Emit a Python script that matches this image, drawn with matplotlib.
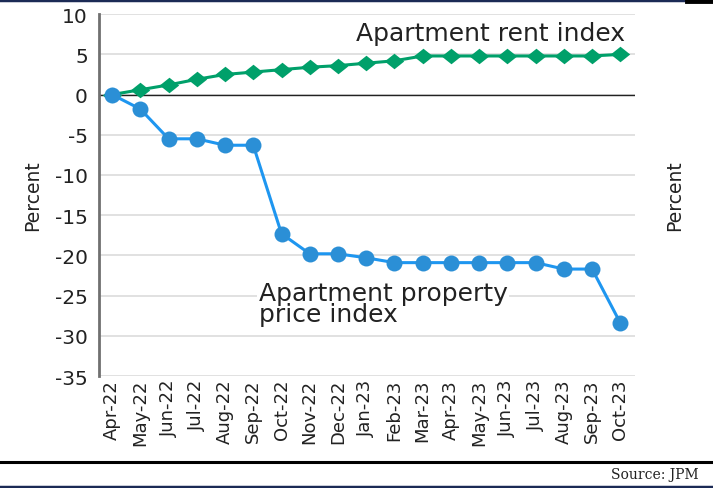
import matplotlib
matplotlib.use("Agg")
import matplotlib.pyplot as plt
from matplotlib.lines import Line2D

plt.rcParams['font.family'] = ['DejaVu Sans']
plt.rcParams['axes.unicode_minus'] = False

# Monthly data, Apr-22 .. Oct-23 (percent change since Apr-22)
months = ['Apr-22', 'May-22', 'Jun-22', 'Jul-22', 'Aug-22', 'Sep-22', 'Oct-22',
          'Nov-22', 'Dec-22', 'Jan-23', 'Feb-23', 'Mar-23', 'Apr-23', 'May-23',
          'Jun-23', 'Jul-23', 'Aug-23', 'Sep-23', 'Oct-23']
rent_index = [0, 0.6, 1.2, 1.9, 2.5, 2.8, 3.1, 3.4, 3.6, 3.9, 4.2, 4.8,
              4.8, 4.8, 4.8, 4.8, 4.8, 4.8, 5.0]
price_index = [0, -1.8, -5.5, -5.5, -6.3, -6.3, -17.3, -19.8, -19.8, -20.3,
               -20.9, -20.9, -20.9, -20.9, -20.9, -20.9, -21.7, -21.7, -28.4]
yticks = [10, 5, 0, -5, -10, -15, -20, -25, -30, -35]

green = '#00a06a'
blue = '#2b8fd6'
x = list(range(len(months)))

fig = plt.figure(figsize=(7.13, 4.89), dpi=100)
ax = fig.add_axes([0.139, 0.229, 0.752, 0.740])

# gridlines and zero line
ax.set_yticks(yticks)
ax.yaxis.grid(True, color='#dcdcdc', linewidth=1.2)
ax.set_axisbelow(True)
ax.axhline(0, color='#222222', linewidth=1.0, zorder=1)

# slightly wide markers, as in the original
diamond = [(-1, 0), (0, 0.8), (1, 0), (0, -0.8), (-1, 0)]
ellipse_w = 1.0
ax.plot(x, rent_index, color=green, linewidth=2.2, marker=diamond,
        markersize=14, markeredgewidth=0, zorder=3)
ax.plot(x, price_index, color='#1e96f0', linewidth=2.2, marker='o',
        markersize=11.5, markerfacecolor=blue, markeredgewidth=0, zorder=4)

ax.set_xlim(-0.46, 18.53)
ax.set_ylim(-35, 10)
ax.set_xticks(x)
ax.set_xticklabels(months, rotation=90, fontsize=13, color='#222222')
ax.tick_params(axis='x', length=0, pad=2)
ax.tick_params(axis='y', length=0, pad=8, labelsize=14.5, labelcolor='#222222')

for s in ['top', 'right', 'bottom']:
    ax.spines[s].set_visible(False)
ax.spines['left'].set_color('#707070')
ax.spines['left'].set_linewidth(2.0)

ax.set_ylabel('Percent', fontsize=13.5, color='#222222')
ax.yaxis.set_label_coords(-0.106, 0.5)

ax2 = ax.twinx()
ax2.set_ylim(-35, 10)
ax2.set_yticks([])
for s in ax2.spines.values():
    s.set_visible(False)
ax2.set_ylabel('Percent', fontsize=13.5, color='#222222')
ax2.yaxis.set_label_coords(1.056, 0.5)

# series labels
ax.text(13.4, 7.7, 'Apartment rent index', fontsize=18, color='#222222',
        ha='center', va='center', zorder=5)
ax.text(5.2, -26.0, 'Apartment property\nprice index', fontsize=18,
        color='#222222', ha='left', va='center', linespacing=0.82,
        bbox=dict(facecolor='white', edgecolor='none', pad=1), zorder=2)

# frame lines of the page
fig.add_artist(Line2D([0, 1], [0.997, 0.997], color='#1b2a55', linewidth=2.5))
fig.add_artist(Line2D([0.963, 1], [0.996, 0.996], color='#000000', linewidth=3.5))
fig.add_artist(Line2D([0, 1], [1 - 463 / 489, 1 - 463 / 489], color='#000000', linewidth=2.2))
fig.add_artist(Line2D([0, 1], [0.003, 0.003], color='#1b2a55', linewidth=2.5))

fig.text(0.980, 1 - 475 / 489, 'Source: JPM', fontsize=10, family='DejaVu Serif',
         color='#222222', ha='right', va='center')

fig.savefig('out.png', dpi=100)
